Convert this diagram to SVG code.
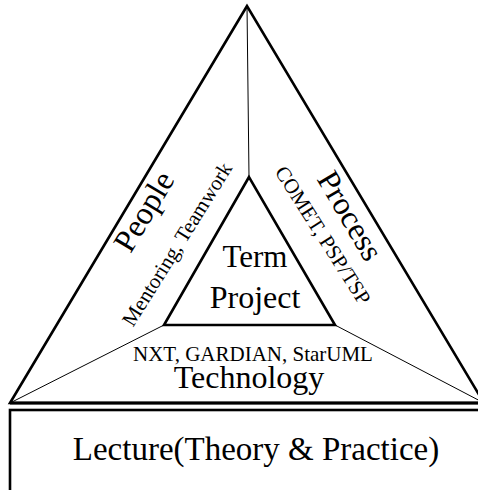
<svg xmlns="http://www.w3.org/2000/svg" width="478" height="490" viewBox="0 0 478 490">
<style>
text{font-family:'Liberation Serif','DejaVu Serif',serif;fill:#000;text-anchor:middle}
.thick{fill:none;stroke:#000;stroke-width:2.6;stroke-linejoin:miter}
.thin{fill:none;stroke:#000;stroke-width:1}
</style>
<rect width="478" height="490" fill="#fff"/>
<g id="outer-triangle">
<polygon class="thick" points="247,6 10,403 484,403"/>
<line x1="10" y1="403" x2="484" y2="403" stroke="#000" stroke-width="3.2"/>
</g>
<g id="connectors">
<line class="thin" x1="247" y1="6" x2="249" y2="177"/>
<line class="thin" x1="164" y1="325" x2="10" y2="403"/>
<line class="thin" x1="335" y1="325" x2="484" y2="403"/>
</g>
<g id="term-project">
<polygon class="thick" points="249,177 164,325 335,325" stroke-width="3"/>
<text x="255" y="267" font-size="31" font-family="Liberation Serif, serif">Term</text>
<text x="255" y="308" font-size="32" font-family="Liberation Serif, serif">Project</text>
</g>
<g id="people">
<text font-size="32" font-family="Liberation Serif, serif" transform="translate(153,217) rotate(-59)">People</text>
<text font-size="21" font-family="Liberation Serif, serif" transform="translate(183,248) rotate(-58)">Mentoring, Teamwork</text>
</g>
<g id="process">
<text font-size="32" font-family="Liberation Serif, serif" transform="translate(341,221) rotate(59.5)">Process</text>
<text font-size="21" font-family="Liberation Serif, serif" transform="translate(317,239) rotate(57.5)">COMET, PSP/TSP</text>
</g>
<g id="technology">
<text x="253" y="361" font-size="21" font-family="Liberation Serif, serif">NXT, GARDIAN, StarUML</text>
<text x="249" y="388" font-size="32" font-family="Liberation Serif, serif">Technology</text>
</g>
<g id="lecture">
<rect x="10" y="410" width="480" height="100" fill="none" stroke="#000" stroke-width="2.6"/>
<text x="256" y="460" font-size="33" font-family="Liberation Serif, serif">Lecture(Theory &amp; Practice)</text>
</g>
</svg>
